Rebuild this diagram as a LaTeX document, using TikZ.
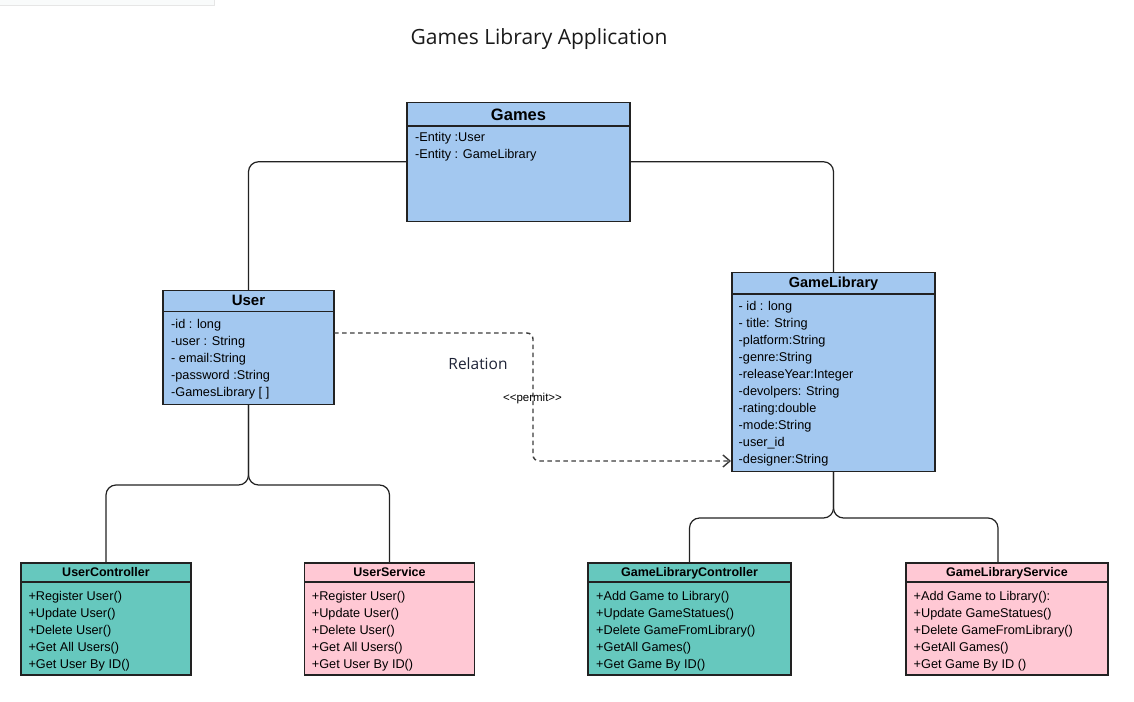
\documentclass[tikz,border=0pt]{standalone}
\usepackage{fontspec}
\setmainfont{Liberation Sans}
\newfontfamily\titlefont{Open Sans}
\usetikzlibrary{arrows.meta,calc}
\definecolor{boxblue}{RGB}{163,200,240}
\definecolor{boxteal}{RGB}{102,200,190}
\definecolor{boxpink}{RGB}{255,200,212}
\definecolor{edgecol}{RGB}{34,34,34}
\definecolor{dashgray}{RGB}{60,60,60}
\definecolor{titlecol}{RGB}{26,26,26}
\definecolor{relcol}{RGB}{30,35,55}
\definecolor{artfill}{RGB}{249,251,251}
\definecolor{artline}{RGB}{230,230,230}
\tikzset{
  classbox/.style={draw=edgecol, line width=1.2pt, inner sep=0pt, outer sep=0pt},
  sepline/.style={draw=edgecol, line width=1.2pt},
  hdr/.style={inner sep=0pt, anchor=center, text depth=0pt},
  bodytext/.style={font=\fontsize{12.7}{17}\selectfont, align=left, anchor=north west, inner sep=0pt},
  conn/.style={draw=edgecol, line width=1.2pt, rounded corners=10pt},
  relconn/.style={draw=dashgray, line width=1.4pt, dash pattern=on 4.5pt off 3.5pt, rounded corners=6pt,
    -{Straight Barb[length=7pt,width=12pt]}},
}
\begin{document}
\begin{tikzpicture}[x=1pt,y=-1pt]
\useasboundingbox (0,0) rectangle (1134,701);
% faint strip at top left
\fill[artfill] (0,0) rectangle (214,6);
\draw[artline, line width=1pt] (0,6) -- (214,6) -- (214,0);

% title
\node[hdr, font=\titlefont\fontsize{21}{25}\selectfont, text height=15pt, text=titlecol] (title) at (539,37) {Games Library Application};

% ---------- Games ----------
\node[classbox, fill=boxblue, minimum width=223pt, minimum height=119pt] (games) at (518.5,161.75) {};
\draw[sepline] (games.west |- 0,126) -- (games.east |- 0,126);
\node[hdr, font=\bfseries\fontsize{16.5}{18}\selectfont, text height=11.8pt] (gamesh) at (518.5,115) {Games};
\node[bodytext] (gamesb) at (415,132.5) {-Entity :User\\-Entity : GameLibrary};

% ---------- User ----------
\node[classbox, fill=boxblue, minimum width=171pt, minimum height=114pt] (user) at (248.5,347.25) {};
\draw[sepline] (user.west |- 0,311.5) -- (user.east |- 0,311.5);
\node[hdr, font=\bfseries\fontsize{15}{17}\selectfont, text height=10.7pt] (userh) at (248.5,300) {User};
\node[bodytext] (userb) at (171,319) {-id : long\\-user : String\\- email:String\\-password :String\\-GamesLibrary [ ]};

% ---------- GameLibrary ----------
\node[classbox, fill=boxblue, minimum width=203pt, minimum height=199.5pt] (glib) at (833.5,372) {};
\draw[sepline] (glib.west |- 0,294) -- (glib.east |- 0,294);
\node[hdr, font=\bfseries\fontsize{14.5}{17}\selectfont, text height=10.4pt] (glibh) at (833.5,282.5) {GameLibrary};
\node[bodytext] (glibb) at (738.5,300.8) {- id : long\\- title: String\\-platform:String\\-genre:String\\-releaseYear:Integer\\-devolpers: String\\-rating:double\\-mode:String\\-user\_id\\-designer:String};

% ---------- UserController ----------
\node[classbox, fill=boxteal, minimum width=170pt, minimum height=112pt] (uc) at (106,619) {};
\draw[sepline] (uc.west |- 0,582) -- (uc.east |- 0,582);
\node[hdr, font=\bfseries\fontsize{12.5}{15}\selectfont, text height=9pt] (uch) at (106,571.5) {UserController};
\node[bodytext] (ucb) at (28.3,590.8) {+Register User()\\+Update User()\\+Delete User()\\+Get All Users()\\+Get User By ID()};

% ---------- UserService ----------
\node[classbox, fill=boxpink, minimum width=170pt, minimum height=112pt] (us) at (389.5,619) {};
\draw[sepline] (us.west |- 0,582) -- (us.east |- 0,582);
\node[hdr, font=\bfseries\fontsize{12.5}{15}\selectfont, text height=9pt] (ush) at (389.5,571.5) {UserService};
\node[bodytext] (usb) at (311.7,590.8) {+Register User()\\+Update User()\\+Delete User()\\+Get All Users()\\+Get User By ID()};

% ---------- GameLibraryController ----------
\node[classbox, fill=boxteal, minimum width=203pt, minimum height=112pt] (glc) at (689.5,619) {};
\draw[sepline] (glc.west |- 0,582) -- (glc.east |- 0,582);
\node[hdr, font=\bfseries\fontsize{12.5}{15}\selectfont, text height=9pt] (glch) at (689.5,571.5) {GameLibraryController};
\node[bodytext] (glcb) at (596,590.8) {+Add Game to Library()\\+Update GameStatues()\\+Delete GameFromLibrary()\\+GetAll Games()\\+Get Game By ID()};

% ---------- GameLibraryService ----------
\node[classbox, fill=boxpink, minimum width=202pt, minimum height=112pt] (gls) at (1007,619) {};
\draw[sepline] (gls.west |- 0,582) -- (gls.east |- 0,582);
\node[hdr, font=\bfseries\fontsize{12.5}{15}\selectfont, text height=9pt] (glsh) at (1007,571.5) {GameLibraryService};
\node[bodytext] (glsb) at (913.5,590.8) {+Add Game to Library():\\+Update GameStatues()\\+Delete GameFromLibrary()\\+GetAll Games()\\+Get Game By ID ()};

% ---------- connectors ----------
\draw[conn] (games.west) -| (user.north);
\draw[conn] (games.east) -| (glib.north);

\coordinate (usplit) at (248.5,485);
\draw[conn] (user.south) -- (usplit) -| (uc.north);
\draw[conn] (user.south) -- (usplit) -| (us.north);

\coordinate (gsplit) at (833.5,518);
\coordinate (glsin) at (998,563);
\draw[conn] (glib.south) -- (gsplit) -| (glc.north);
\draw[conn] (glib.south) -- (gsplit) -| (glsin);

% dashed relation
\coordinate (relstart) at (334,333);
\coordinate (relmid) at (533,461);
\coordinate (relend) at (731,461);
\draw[relconn] (relstart) -| (relmid) -- (relend);
\node[hdr, font=\fontsize{11.5}{13}\selectfont, text height=8.3pt] (permit) at (532.5,397) {<{}<permit>{}>};
\node[hdr, font=\titlefont\fontsize{15.5}{18}\selectfont, text height=11pt, text=relcol] (relation) at (478,363.7) {Relation};
\end{tikzpicture}
\end{document}
